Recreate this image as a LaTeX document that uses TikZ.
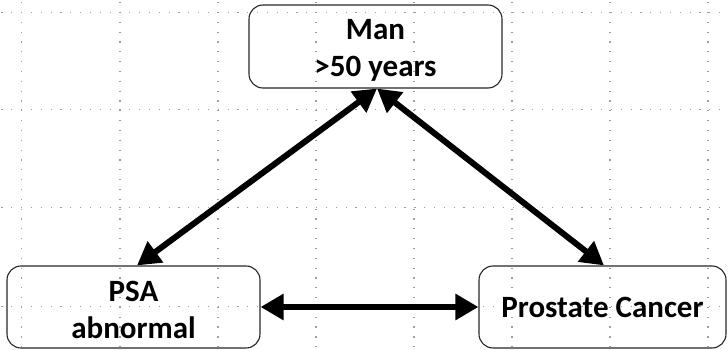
\documentclass[tikz,border=0pt]{standalone}
\usepackage{fontspec}
\setmainfont{Carlito}
\usetikzlibrary{arrows.meta}
\begin{document}
\begin{tikzpicture}[x=1pt,y=-1pt,
  gridh/.style={draw=black!38,line width=1.2pt,dash pattern=on 1.2pt off 8.63pt},
  gridv/.style={draw=black!38,line width=1.2pt,dash pattern=on 1.2pt off 8.63pt},
  box/.style={draw=black!85,line width=1.1pt,rounded corners=14pt,inner sep=0pt,align=center,
    font=\bfseries\fontsize{31}{37}\selectfont},
  biarrow/.style={line width=6pt,{Triangle[length=23pt,width=25pt]}-{Triangle[length=23pt,width=25pt]}}]
\useasboundingbox (0,0) rectangle (728,350);
% dotted grid
\foreach \yy in {12.7,109.5,207.5,306.5}{
  \draw[gridh] (1.45,\yy) -- (728,\yy);
}
\foreach \xx in {21.7,120,218,316,414,512,610,708}{
  \draw[gridv] (\xx,2.1) -- (\xx,350);
}
% boxes
\node[box,minimum width=253pt,minimum height=83pt] (man) at (375.5,46.5) {\rule{0pt}{27pt}Man\\>50 years};
\node[box,minimum width=253pt,minimum height=82pt] (psa) at (133.5,307) {\rule{0pt}{26pt}PSA\\abnormal};
\node[box,minimum width=247pt,minimum height=82pt] (pc) at (602.5,307) {Prostate Cancer};
% arrows
\draw[biarrow] ([xshift=1.5pt]man.south) -- ([xshift=3.5pt]psa.north);
\draw[biarrow] ([xshift=1.5pt]man.south) -- ([xshift=1.5pt]pc.north);
\draw[biarrow] (psa.east) -- (pc.west);
\end{tikzpicture}
\end{document}
